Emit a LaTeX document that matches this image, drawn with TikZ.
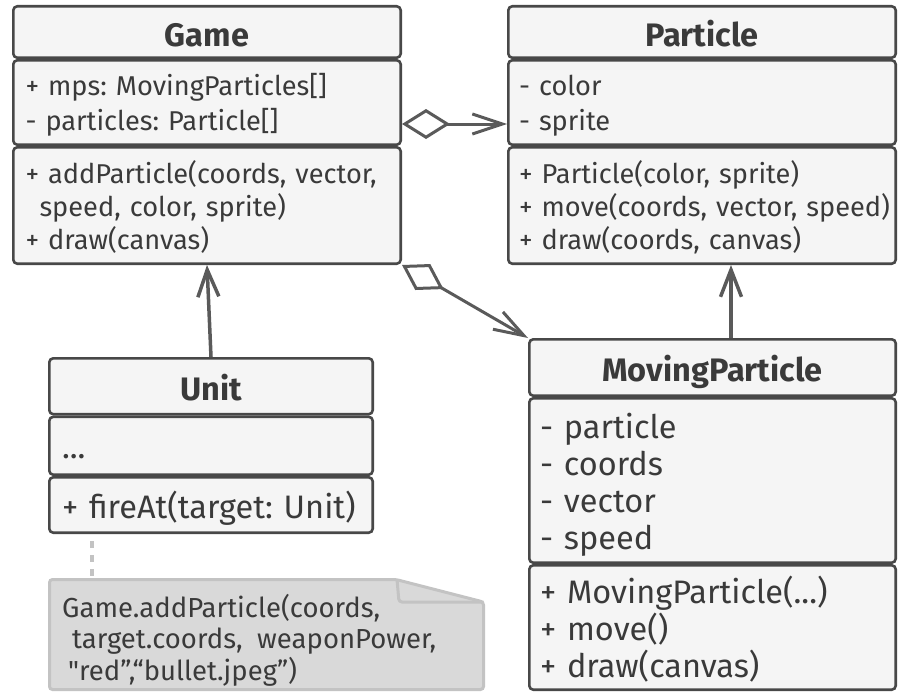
\documentclass[tikz,border=0pt]{standalone}
\usepackage{fontspec}
\setmainfont{Fira Sans}
\newfontfamily\plainquote{Fira Sans}
\usetikzlibrary{positioning, arrows.meta}
\frenchspacing

\definecolor{boxline}{HTML}{484848}
\definecolor{boxfill}{HTML}{F5F5F5}
\definecolor{boxtext}{HTML}{3A3A3A}
\definecolor{linkgray}{HTML}{5A5A5A}
\definecolor{notefill}{HTML}{D9D9D9}
\definecolor{noteedge}{HTML}{C3C3C3}

\newcommand{\bodysize}{\fontsize{27.2}{35}\selectfont}
\newcommand{\opssize}{\fontsize{27.2}{33}\selectfont}
\newcommand{\bigsize}{\fontsize{32.5}{37}\selectfont}
\newcommand{\titlesize}{\fontsize{32.5}{36}\selectfont\bfseries}

\begin{document}
\begin{tikzpicture}[
  x=1pt, y=1pt,
  every node/.style={inner sep=0pt},
  part/.style={draw=boxline, fill=boxfill, text=boxtext, line width=2.6pt,
               rounded corners=4pt},
  classname/.style={part, font=\titlesize, anchor=north west,
                    text height=30pt, text depth=1.6pt},
  members/.style={part, font=\bodysize, align=left, text width=#1,
                  execute at begin node={\rule{0pt}{28pt}},
                  execute at end node={\rule[-7pt]{0pt}{7pt}}},
  operations/.style={members=#1, font=\opssize},
  bigmembers/.style={members=#1, font=\bigsize,
                  execute at begin node={\rule{0pt}{35pt}},
                  execute at end node={\rule[-9pt]{0pt}{9pt}}},
  agg/.style={linkgray, line width=3pt,
              {Diamond[open, length=48pt, width=30pt]}-{Straight Barb[length=30pt, width=20pt]}},
  inherit/.style={linkgray, line width=3.5pt, -{Straight Barb[length=27pt, width=21pt]}},
  note/.style={fill=notefill, draw=noteedge, line width=3pt, rounded corners=3pt},
  notelink/.style={noteedge, line width=4pt, dash pattern=on 7pt off 7pt}]
\useasboundingbox (0,0) rectangle (901,-693);

% Game
\node[classname, minimum width=387.4pt, minimum height=51.4pt] (game) at (12,-5) {Game};
\node[members=363pt, minimum width=387.4pt, minimum height=84.4pt, below=0pt of game] (gameattr)
  {+ mps: MovingParticles[]\\- particles: Particle[]};
\node[operations=363pt, minimum width=387.4pt, minimum height=116.4pt, below=0pt of gameattr] (gameops)
  {\mbox{+ addParticle(coords, vector,}\\\hspace*{14pt}speed, color, sprite)\\+ draw(canvas)};

% Particle
\node[classname, minimum width=387.4pt, minimum height=51.4pt] (particle) at (507,-5) {Particle};
\node[members=366pt, minimum width=387.4pt, minimum height=84.4pt, below=0pt of particle] (partattr)
  {- color\\- sprite};
\node[operations=366pt, minimum width=387.4pt, minimum height=116.4pt, below=0pt of partattr] (partops)
  {+ Particle(color, sprite)\\\mbox{+ move(coords, vector, speed)}\\+ draw(coords, canvas)};

% Unit
\node[classname, minimum width=323.4pt, minimum height=55.9pt] (unit) at (48,-357) {Unit};
\node[bigmembers=298pt, minimum width=323.4pt, minimum height=57.9pt, below=0pt of unit] (unitattr)
  {...};
\node[bigmembers=298pt, minimum width=323.4pt, minimum height=55.4pt, below=0pt of unitattr] (unitops)
  {\mbox{+ fireAt(target: Unit)}};

% MovingParticle
\node[classname, minimum width=366.4pt, minimum height=56.4pt] (mp) at (528,-338) {MovingParticle};
\node[bigmembers=345pt, minimum width=366.4pt, minimum height=164.4pt, below=0pt of mp] (mpattr)
  {- particle\\- coords\\- vector\\- speed};
\node[bigmembers=345pt, minimum width=366.4pt, minimum height=124.4pt, below=0pt of mpattr] (mpops)
  {+ MovingParticle(...)\\+ move()\\+ draw(canvas)};

% note
\draw[note] (49.5,-579.5) -- (396,-579.5) -- (483.5,-602) -- (483.5,-689.5)
  -- (49.5,-689.5) -- cycle;
\draw[note, fill=none] (397,-579.5) -- (399,-602) -- (483.5,-602);
\node[font=\fontsize{27.5}{31.5}\selectfont, text=boxtext, align=left, anchor=west] (notetext)
  at (62,-640) {Game.addParticle(coords,\\\hspace*{10pt}target.coords,\ \ weaponPower,\\
  \hspace*{6pt}{\plainquote"}red”,“bullet.jpeg”)};
\coordinate (notetop) at (92,-578);
\draw[notelink] ([yshift=-7pt]unitops.south -| notetop) -- ([yshift=2pt]notetop);

% links
\draw[agg] ([yshift=-21.5pt]gameattr.east) -- ([yshift=-21.5pt]partattr.west);
\draw[agg] (gameops.south east) -- (mp.north west);
\draw[inherit] (unit.north) -- (gameops.south);
\coordinate (mptop) at ([xshift=18.5pt]mp.north);
\draw[inherit] (mptop) -- (mptop |- partops.south);
\end{tikzpicture}
\end{document}
